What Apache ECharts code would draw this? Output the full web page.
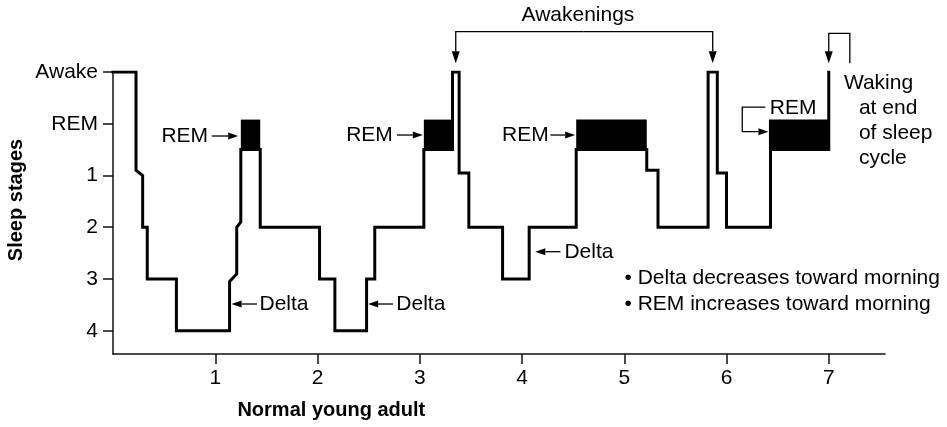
<!DOCTYPE html>
<html>
<head>
<meta charset="utf-8">
<script src="https://cdn.jsdelivr.net/npm/echarts@6/dist/echarts.min.js"></script>
<style>
html, body { margin: 0; padding: 0; background: #fff; }
#main { width: 947px; height: 427px; }
</style>
</head>
<body>
<div id="main"></div>
<script>
// stage names top to bottom, value 0 = Awake
const stageNames = ['Awake', 'REM', '1', '2', '3', '4']
const stageTicks = [0, 1, 2, 3, 4, 5]
const hourTicks = [1, 2, 3, 4, 5, 6, 7]

// hypnogram vertices (hours, stage value)
const hypnoHours = [
  0, 0.225, 0.225, 0.29, 0.29, 0.335, 0.335, 0.62, 0.62, 1.14,
  1.14, 1.21, 1.21, 1.25, 1.25, 1.44, 1.44, 2.02, 2.02, 2.17,
  2.17, 2.48, 2.48, 2.56, 2.56, 3.04, 3.04, 3.32, 3.32, 3.385,
  3.385, 3.48, 3.48, 3.81, 3.81, 4.07, 4.07, 4.53, 4.53, 5.22,
  5.22, 5.33, 5.33, 5.82, 5.82, 5.91, 5.91, 6.0, 6.0, 6.43,
  6.43, 7.0, 7.0
]
const hypnoStages = [
  0, 0, 1.9, 2, 3, 3, 4, 4, 5, 5,
  4.05, 3.9, 3, 2.9, 1.5, 1.5, 3, 3, 4, 4,
  5, 5, 4, 4, 3, 3, 1.5, 1.5, 0, 0,
  1.95, 1.95, 3, 3, 4, 4, 3, 3, 1.5, 1.5,
  1.9, 1.9, 3, 3, 0, 0, 1.95, 1.95, 3, 3,
  1.5, 1.5, 0
]

// REM episodes (hours) drawn as filled blocks
const remStart = [1.25, 3.04, 4.53, 6.415]
const remEnd = [1.44, 3.32, 5.22, 7.0]
const remTop = 0.92
const remBottom = 1.5

const FONT = '"Liberation Sans", Arial, sans-serif'

const chart = echarts.init(document.getElementById('main'))

const option = {
  animation: false,
  grid: { left: 113, right: 62, top: 72, bottom: 73 },
  xAxis: {
    type: 'value',
    min: 0,
    max: 7.55,
    splitLine: { show: false },
    axisLine: { onZero: false, lineStyle: { color: '#111', width: 1.5 } },
    axisTick: { customValues: hourTicks, length: 10, lineStyle: { color: '#111', width: 1.5 } },
    axisLabel: {
      customValues: hourTicks,
      margin: 14,
      color: '#000',
      fontSize: 21,
      fontFamily: FONT
    }
  },
  yAxis: {
    type: 'value',
    inverse: true,
    min: 0,
    max: 5.45,
    splitLine: { show: false },
    axisLine: { show: true, onZero: false, lineStyle: { color: '#111', width: 1.5 } },
    axisTick: { show: true, customValues: stageTicks, length: 10, lineStyle: { color: '#111', width: 1.5 } },
    axisLabel: {
      customValues: stageTicks,
      formatter: v => stageNames[v],
      margin: 15,
      color: '#000',
      fontSize: 21,
      fontFamily: FONT
    }
  },
  series: [
    {
      type: 'line',
      z: 2,
      symbol: 'none',
      lineStyle: { color: '#000', width: 3, join: 'miter', cap: 'square' },
      data: hypnoHours.map((h, i) => [h, hypnoStages[i]])
    },
    {
      type: 'custom',
      z: 3,
      encode: { x: [0, 1], y: [2, 3] },
      data: remStart.map((s, i) => [s, remEnd[i], remTop, remBottom]),
      renderItem(params, api) {
        const a = api.coord([api.value(0), api.value(2)])
        const b = api.coord([api.value(1), api.value(3)])
        return {
          type: 'rect',
          shape: { x: a[0], y: a[1], width: b[0] - a[0], height: b[1] - a[1] },
          style: { fill: '#000' }
        }
      }
    }
  ]
}

chart.setOption(option)

// annotations, anchored in data coordinates
const P = (x, y) => chart.convertToPixel({ gridIndex: 0 }, [x, y])

function label(x, y, str, align, opts) {
  const p = P(x, y)
  return Object.assign({
    type: 'text',
    x: p[0],
    y: p[1],
    z: 10,
    style: {
      text: str,
      fill: '#000',
      font: '21px ' + FONT,
      align: align,
      verticalAlign: 'middle'
    }
  }, opts || {})
}

function arrow(points, len, wid) {
  const pts = points.map(p => P(p[0], p[1]))
  const n = pts.length
  const tip = pts[n - 1]
  const prev = pts[n - 2]
  const dx = tip[0] - prev[0]
  const dy = tip[1] - prev[1]
  const d = Math.sqrt(dx * dx + dy * dy)
  const ux = dx / d
  const uy = dy / d
  const base = [tip[0] - ux * len, tip[1] - uy * len]
  const l = [base[0] - uy * wid / 2, base[1] + ux * wid / 2]
  const r = [base[0] + uy * wid / 2, base[1] - ux * wid / 2]
  const line = pts.slice(0, n - 1).concat([base])
  return [
    { type: 'polyline', z: 10, shape: { points: line }, style: { stroke: '#000', lineWidth: 1.3, fill: null } },
    { type: 'polygon', z: 10, shape: { points: [tip, l, r] }, style: { fill: '#000' } }
  ]
}

const graphics = []
  // awakenings bracket
  .concat(arrow([[4.6, -0.779], [3.352, -0.779], [3.352, -0.17]], 12, 8))
  .concat(arrow([[4.6, -0.779], [5.865, -0.779], [5.865, -0.17]], 12, 8))
  // waking at end of cycle
  .concat(arrow([[7.206, -0.17], [7.206, -0.748], [7.0, -0.748], [7.0, -0.17]], 12, 8))
  // REM pointers
  .concat(arrow([[0.966, 1.237], [1.225, 1.237]], 10, 7))
  .concat(arrow([[2.778, 1.218], [3.03, 1.218]], 10, 7))
  .concat(arrow([[4.278, 1.218], [4.52, 1.218]], 10, 7))
  .concat(arrow([[6.38, 0.68], [6.154, 0.68], [6.154, 1.154], [6.41, 1.154]], 10, 7))
  // delta pointers
  .concat(arrow([[1.408, 4.484], [1.16, 4.484]], 10, 7))
  .concat(arrow([[2.739, 4.484], [2.495, 4.484]], 10, 7))
  .concat(arrow([[4.376, 3.473], [4.13, 3.473]], 10, 7))

graphics.push(
  label(4.547, -1.1, 'Awakenings', 'center'),
  label(0.93, 1.237, 'REM', 'right'),
  label(2.737, 1.218, 'REM', 'right'),
  label(4.261, 1.218, 'REM', 'right'),
  label(6.424, 0.7, 'REM', 'left'),
  label(1.433, 4.484, 'Delta', 'left'),
  label(2.771, 4.484, 'Delta', 'left'),
  label(4.415, 3.473, 'Delta', 'left'),
  label(7.148, 0.218, 'Waking', 'left'),
  label(7.295, 0.7, 'at end', 'left'),
  label(7.295, 1.185, 'of sleep', 'left'),
  label(7.295, 1.668, 'cycle', 'left'),
  label(5.002, 3.987, '\u2022 Delta decreases toward morning', 'left'),
  label(5.002, 4.484, '\u2022 REM increases toward morning', 'left'),
  label(2.135, 6.55, 'Normal young adult', 'center', {}),
  label(-0.94, 2.474, 'Sleep stages', 'center', { rotation: Math.PI / 2 })
)

// bold axis titles
graphics[graphics.length - 1].style.font = 'bold 20px ' + FONT
graphics[graphics.length - 2].style.font = 'bold 20px ' + FONT

chart.setOption({ graphic: graphics })
</script>
</body>
</html>
